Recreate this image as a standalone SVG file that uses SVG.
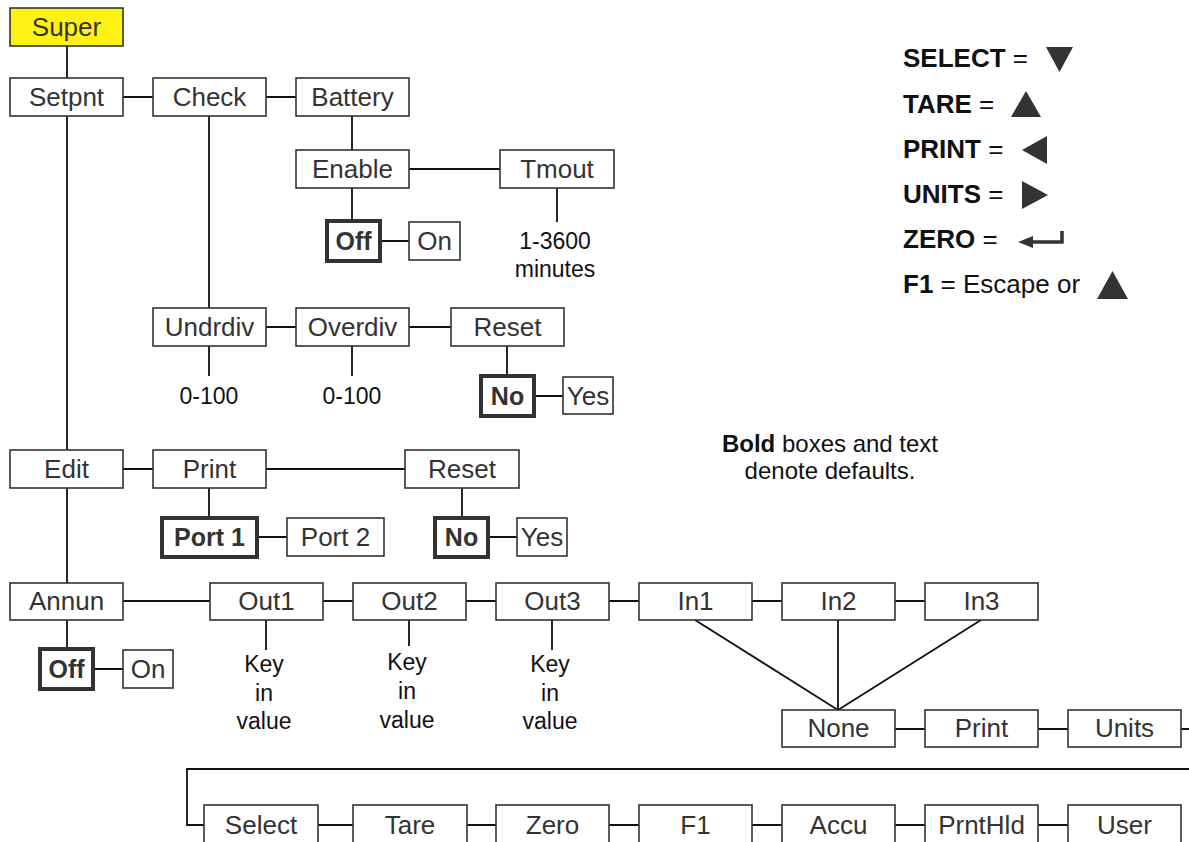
<svg xmlns="http://www.w3.org/2000/svg" width="1189" height="842" viewBox="0 0 1189 842">
<style>
.b{fill:#fff;stroke:#333;stroke-width:1.6}
.d{fill:#fff;stroke:#333;stroke-width:4}
.t{font-family:"Liberation Sans",Arial,sans-serif;font-size:26px;fill:#333;text-anchor:middle}
.tb{font-family:"Liberation Sans",Arial,sans-serif;font-size:25px;font-weight:bold;fill:#333;text-anchor:middle}
.l{font-family:"Liberation Sans",Arial,sans-serif;font-size:23px;fill:#111;text-anchor:middle}
.g{font-family:"Liberation Sans",Arial,sans-serif;font-size:26px;fill:#111}
.n{font-family:"Liberation Sans",Arial,sans-serif;font-size:24px;fill:#111;text-anchor:middle}
.c{stroke:#111;stroke-width:1.8;fill:none}
.k{fill:#333}
</style>
<rect width="1189" height="842" fill="#fff"/>
<g id="connectors">
<path class="c" d="M67,46V78 M67,116V450 M67,488V583 M67,620V649 M123,97H153 M266,97H296 M209,116V308 M352,116V150 M409,169H500 M352,188V221 M380,241H409 M557,188V222 M266,327H296 M409,327H451 M209,346V376 M352,346V376 M507,346V376 M534,396H563 M123,469H153 M266,469H405 M209,488V518 M462,488V518 M257,537H287 M488,537H517 M123,601H210 M323,601H353 M466,601H496 M609,601H639 M752,601H782 M895,601H925 M93,669H123 M266,620V650 M409,620V646 M552,620V650 M695,620L838,710 M838,620V710 M981,620L838,710 M895,729H925 M1038,729H1068 M1181,729H1189 M1189,769H187V825H204 M318,825H353 M467,825H496 M609,825H639 M752,825H782 M895,825H925 M1038,825H1068"/>
</g>
<g id="super"><rect x="10" y="8" width="113" height="38" fill="#FFF212" stroke="#333" stroke-width="1.6"/><text class="t" x="66.5" y="36">Super</text></g>
<g id="setpnt"><rect class="b" x="10" y="78" width="113" height="38"/><text class="t" x="66.5" y="106">Setpnt</text></g>
<g id="check"><rect class="b" x="153" y="78" width="113" height="38"/><text class="t" x="209.5" y="106">Check</text></g>
<g id="battery"><rect class="b" x="296" y="78" width="113" height="38"/><text class="t" x="352.5" y="106">Battery</text></g>
<g id="enable"><rect class="b" x="296" y="150" width="113" height="38"/><text class="t" x="352.5" y="178">Enable</text></g>
<g id="tmout"><rect class="b" x="500" y="150" width="114" height="38"/><text class="t" x="557" y="178">Tmout</text></g>
<g id="off1"><rect class="d" x="327" y="221" width="53" height="40"/><text class="tb" x="353.5" y="250">Off</text></g>
<g id="on1"><rect class="b" x="409" y="222" width="51" height="38"/><text class="t" x="434.5" y="250">On</text></g>
<g id="tmout-range"><text class="l" x="555" y="249">1-3600</text><text class="l" x="555" y="277">minutes</text></g>
<g id="undrdiv"><rect class="b" x="153" y="308" width="113" height="38"/><text class="t" x="209.5" y="336">Undrdiv</text></g>
<g id="overdiv"><rect class="b" x="296" y="308" width="113" height="38"/><text class="t" x="352.5" y="336">Overdiv</text></g>
<g id="reset1"><rect class="b" x="451" y="308" width="113" height="38"/><text class="t" x="507.5" y="336">Reset</text></g>
<g id="undr-range"><text class="l" x="209" y="404">0-100</text></g>
<g id="over-range"><text class="l" x="352" y="404">0-100</text></g>
<g id="no1"><rect class="d" x="481" y="376" width="53" height="40"/><text class="tb" x="507.5" y="405">No</text></g>
<g id="yes1"><rect class="b" x="563" y="377" width="50" height="37"/><text class="t" x="588" y="405">Yes</text></g>
<g id="edit"><rect class="b" x="10" y="450" width="113" height="38"/><text class="t" x="66.5" y="478">Edit</text></g>
<g id="print"><rect class="b" x="153" y="450" width="113" height="38"/><text class="t" x="209.5" y="478">Print</text></g>
<g id="reset2"><rect class="b" x="405" y="450" width="114" height="38"/><text class="t" x="462" y="478">Reset</text></g>
<g id="port1"><rect class="d" x="162" y="518" width="95" height="39"/><text class="tb" x="209.5" y="546">Port 1</text></g>
<g id="port2"><rect class="b" x="287" y="518" width="97" height="38"/><text class="t" x="335.5" y="546">Port 2</text></g>
<g id="no2"><rect class="d" x="435" y="518" width="53" height="39"/><text class="tb" x="461.5" y="546">No</text></g>
<g id="yes2"><rect class="b" x="517" y="518" width="50" height="38"/><text class="t" x="542" y="546">Yes</text></g>
<g id="annun"><rect class="b" x="10" y="583" width="113" height="37"/><text class="t" x="66.5" y="610">Annun</text></g>
<g id="out1"><rect class="b" x="210" y="583" width="113" height="37"/><text class="t" x="266.5" y="610">Out1</text></g>
<g id="out2"><rect class="b" x="353" y="583" width="113" height="37"/><text class="t" x="409.5" y="610">Out2</text></g>
<g id="out3"><rect class="b" x="496" y="583" width="113" height="37"/><text class="t" x="552.5" y="610">Out3</text></g>
<g id="in1"><rect class="b" x="639" y="583" width="113" height="37"/><text class="t" x="695.5" y="610">In1</text></g>
<g id="in2"><rect class="b" x="782" y="583" width="113" height="37"/><text class="t" x="838.5" y="610">In2</text></g>
<g id="in3"><rect class="b" x="925" y="583" width="113" height="37"/><text class="t" x="981.5" y="610">In3</text></g>
<g id="off2"><rect class="d" x="40" y="649" width="53" height="40"/><text class="tb" x="66.5" y="678">Off</text></g>
<g id="on2"><rect class="b" x="123" y="650" width="50" height="38"/><text class="t" x="148" y="678">On</text></g>
<g id="out1-val"><text class="l" x="264" y="672">Key</text><text class="l" x="264" y="701">in</text><text class="l" x="264" y="729">value</text></g>
<g id="out2-val"><text class="l" x="407" y="670">Key</text><text class="l" x="407" y="699">in</text><text class="l" x="407" y="728">value</text></g>
<g id="out3-val"><text class="l" x="550" y="672">Key</text><text class="l" x="550" y="701">in</text><text class="l" x="550" y="729">value</text></g>
<g id="none"><rect class="b" x="782" y="710" width="113" height="37"/><text class="t" x="838.5" y="737">None</text></g>
<g id="print2"><rect class="b" x="925" y="710" width="113" height="37"/><text class="t" x="981.5" y="737">Print</text></g>
<g id="units"><rect class="b" x="1068" y="710" width="113" height="37"/><text class="t" x="1124.5" y="737">Units</text></g>
<g id="select"><rect class="b" x="204" y="805" width="114" height="50"/><text class="t" x="261" y="834">Select</text></g>
<g id="tare"><rect class="b" x="353" y="805" width="114" height="50"/><text class="t" x="410" y="834">Tare</text></g>
<g id="zero"><rect class="b" x="496" y="805" width="113" height="50"/><text class="t" x="552.5" y="834">Zero</text></g>
<g id="f1"><rect class="b" x="639" y="805" width="113" height="50"/><text class="t" x="695.5" y="834">F1</text></g>
<g id="accu"><rect class="b" x="782" y="805" width="113" height="50"/><text class="t" x="838.5" y="834">Accu</text></g>
<g id="prnthld"><rect class="b" x="925" y="805" width="113" height="50"/><text class="t" x="981.5" y="834">PrntHld</text></g>
<g id="user"><rect class="b" x="1068" y="805" width="113" height="50"/><text class="t" x="1124.5" y="834">User</text></g>
<g id="note"><text class="n" x="830" y="452"><tspan font-weight="bold">Bold</tspan> boxes and text</text><text class="n" x="830" y="479">denote defaults.</text></g>
<g id="legend">
<text class="g" x="903" y="67"><tspan font-weight="bold">SELECT</tspan> =</text>
<polygon class="k" points="1046,47 1073,47 1059.5,72"/>
<text class="g" x="903" y="113"><tspan font-weight="bold">TARE</tspan> =</text>
<polygon class="k" points="1011,117 1041,117 1026,91"/>
<text class="g" x="903" y="158"><tspan font-weight="bold">PRINT</tspan> =</text>
<polygon class="k" points="1022,150 1047,136 1047,164"/>
<text class="g" x="903" y="203"><tspan font-weight="bold">UNITS</tspan> =</text>
<polygon class="k" points="1022,181 1022,209 1048,195"/>
<text class="g" x="903" y="248"><tspan font-weight="bold">ZERO</tspan> =</text>
<path d="M1030,242H1062V231" fill="none" stroke="#333" stroke-width="3.5"/>
<polygon class="k" points="1018,242 1033,236 1033,248"/>
<text class="g" x="903" y="293"><tspan font-weight="bold">F1</tspan> = Escape or</text>
<polygon class="k" points="1097,299 1128,299 1112.5,271"/>
</g>
</svg>
